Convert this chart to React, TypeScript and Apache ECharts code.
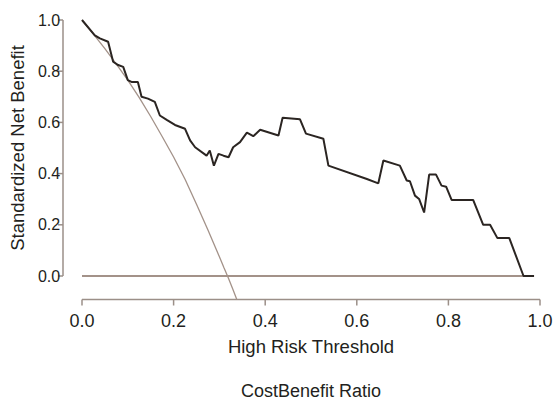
import React, { useEffect, useRef } from "react";
import * as echarts from "echarts";

const xTicks = [0, 0.2, 0.4, 0.6, 0.8, 1.0];
const yTicks = [0, 0.2, 0.4, 0.6, 0.8, 1.0];

// Model curve (standardized net benefit)
const modelX = [
  0.0, 0.028, 0.039, 0.057, 0.068, 0.079, 0.09, 0.1, 0.108, 0.122, 0.13, 0.144,
  0.159, 0.17, 0.185, 0.203, 0.225, 0.236, 0.247, 0.272, 0.279, 0.288, 0.298,
  0.309, 0.32, 0.33, 0.345, 0.36, 0.374, 0.389, 0.429, 0.438, 0.476, 0.489,
  0.527, 0.538, 0.622, 0.647, 0.658, 0.694, 0.709, 0.716, 0.727, 0.736, 0.747,
  0.758, 0.773, 0.785, 0.795, 0.807, 0.854, 0.876, 0.891, 0.907, 0.933, 0.964,
  0.987,
];
const modelY = [
  1.0, 0.94, 0.928, 0.915, 0.837, 0.824, 0.817, 0.765, 0.758, 0.758, 0.7, 0.693,
  0.68, 0.627, 0.61, 0.59, 0.575, 0.53, 0.503, 0.47, 0.49, 0.431, 0.477, 0.47,
  0.464, 0.503, 0.523, 0.56, 0.546, 0.571, 0.549, 0.618, 0.612, 0.556, 0.536,
  0.431, 0.379, 0.362, 0.451, 0.431, 0.373, 0.37, 0.314, 0.301, 0.248, 0.396,
  0.396, 0.353, 0.349, 0.297, 0.297, 0.2, 0.2, 0.148, 0.148, 0.0, 0.0,
];

// "Treat all" curve (ends where it meets the x axis)
const allX = [
  0.0, 0.025, 0.05, 0.075, 0.1, 0.125, 0.15, 0.175, 0.2, 0.225, 0.25, 0.275,
  0.3, 0.31, 0.32, 0.33, 0.338,
];
const allY = [
  1.0, 0.945, 0.888, 0.828, 0.765, 0.697, 0.623, 0.545, 0.465, 0.378, 0.28,
  0.18, 0.075, 0.032, -0.01, -0.055, -0.0918,
];

// "Treat none" line
const noneX = [0.0, 0.987];
const noneY = [0.0, 0.0];

const TEXT = "#231f20";
const AXIS = "#9b8f88";
const GRAY = "#a39289";
const DARK = "#2b2522";
const FONT = "Liberation Sans";

const hiddenParts = {
  axisLine: { show: false },
  axisTick: { show: false },
  axisLabel: { show: false },
  splitLine: { show: false },
};

export default function App() {
  const ref = useRef<HTMLDivElement>(null);

  useEffect(() => {
    if (!ref.current) return;
    const chart = echarts.init(ref.current, null, { renderer: "svg" });
    const zip = (xs: number[], ys: number[]) => xs.map((x, i) => [x, ys[i]]);
    const yMin = -0.0918;
    const titleText = {
      type: "text",
      x: 311,
      y: 391,
      style: {
        text: "CostBenefit Ratio",
        fontSize: 18,
        fontFamily: FONT,
        fill: TEXT,
        align: "center",
        verticalAlign: "middle",
      },
    };
    chart.setOption({
      animation: false,
      textStyle: { fontFamily: FONT, color: TEXT },
      grid: [
        { left: 82, top: 20, width: 458, height: 279.5 },
        { left: 82, top: 20, width: 458, height: 256 },
      ],
      xAxis: [
        {
          gridIndex: 0,
          type: "value",
          min: 0,
          max: 1,
          interval: 0.2,
          name: "High Risk Threshold",
          nameLocation: "middle",
          nameGap: 37,
          nameTextStyle: { fontSize: 18.5, color: TEXT, fontFamily: FONT },
          axisLine: { show: false, onZero: false },
          axisTick: { show: false },
          axisLabel: {
            fontSize: 18,
            color: TEXT,
            fontFamily: FONT,
            margin: 12,
            formatter: (v: number) => v.toFixed(1),
          },
          splitLine: { show: false },
        },
        {
          gridIndex: 1,
          type: "value",
          min: 0,
          max: 1,
          ...hiddenParts,
        },
      ],
      yAxis: [
        {
          gridIndex: 0,
          type: "value",
          min: yMin,
          max: 1,
          ...hiddenParts,
        },
        {
          gridIndex: 1,
          type: "value",
          min: 0,
          max: 1,
          interval: 0.2,
          offset: 19,
          name: "Standardized Net Benefit",
          nameLocation: "middle",
          nameGap: 34,
          nameTextStyle: { fontSize: 18.5, color: TEXT, fontFamily: FONT },
          axisLine: { show: false, onZero: false },
          axisTick: { show: false },
          axisLabel: {
            fontSize: 16,
            color: TEXT,
            fontFamily: FONT,
            margin: 10,
            formatter: (v: number) => v.toFixed(1),
          },
          splitLine: { show: false },
        },
      ],
      graphic: [titleText],
      series: [
        {
          type: "line",
          xAxisIndex: 0,
          yAxisIndex: 0,
          data: zip(noneX, noneY),
          symbol: "none",
          lineStyle: { color: GRAY, width: 2 },
          clip: false,
        },
        {
          type: "line",
          xAxisIndex: 0,
          yAxisIndex: 0,
          data: zip(allX, allY),
          symbol: "none",
          lineStyle: { color: GRAY, width: 1.3 },
          clip: false,
        },
        {
          type: "line",
          xAxisIndex: 0,
          yAxisIndex: 0,
          data: zip(modelX, modelY),
          symbol: "none",
          lineStyle: { color: DARK, width: 2 },
          clip: false,
        },
      ],
    });

    // Axis lines and ticks, placed through the chart's own scales
    const px = (x: number, y: number) =>
      chart.convertToPixel({ gridIndex: 0 }, [x, y]) as number[];
    const seg = (a: number[], b: number[]) => ({
      type: "polyline",
      silent: true,
      shape: { points: [a, b] },
      style: { stroke: AXIS, lineWidth: 1.5, fill: null },
    });
    const bottomY = px(0, yMin)[1];
    const axisX = px(0, 0)[0] - 19;
    const extra: any[] = [];
    extra.push(seg([px(0, yMin)[0], bottomY], [px(1, yMin)[0], bottomY]));
    xTicks.forEach((t) => {
      const x = px(t, yMin)[0];
      extra.push(seg([x, bottomY], [x, bottomY + 6]));
    });
    extra.push(seg([axisX, px(0, 1)[1]], [axisX, px(0, 0)[1]]));
    yTicks.forEach((t) => {
      const y = px(0, t)[1];
      extra.push(seg([axisX - 5, y], [axisX, y]));
    });
    chart.setOption({ graphic: [titleText, ...extra] });

    return () => chart.dispose();
  }, []);

  return (
    <div
      ref={ref}
      style={{ position: "absolute", left: 0, top: 0, width: 556, height: 400 }}
    />
  );
}
